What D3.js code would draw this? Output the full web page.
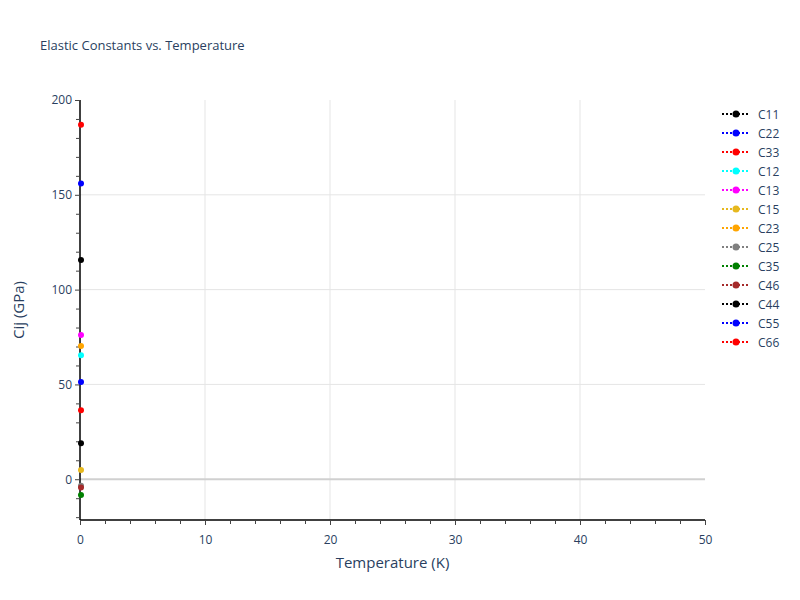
<!DOCTYPE html>
<html>
<head>
<meta charset="utf-8">
<script src="https://cdn.jsdelivr.net/npm/d3@7"></script>
<style>
  body { margin: 0; background: #fff; }
  text { font-family: "Open Sans", Verdana, sans-serif; fill: #2a3f5f; }
</style>
</head>
<body>
<svg id="chart" width="800" height="600"></svg>
<script>
// ── Data ──
const names = ["C11", "C22", "C33", "C12", "C13", "C15", "C23", "C25", "C35", "C46", "C44", "C55", "C66"];
const colors = ["black", "blue", "red", "cyan", "magenta", "#e6b81e", "orange", "gray", "green", "brown", "black", "blue", "red"];
const temps = [0];
const values = [115.6, 156.0, 186.9, 65.4, 76.1, 4.9, 70.3, -3.4, -8.3, -4.4, 19.0, 51.3, 36.4];
const xTicks = [0, 10, 20, 30, 40, 50];
const yTicks = [0, 50, 100, 150, 200];

// ── Layout ──
const svg = d3.select("#chart");
const plotL = 80, plotR = 705, plotT = 100, plotB = 520;

const x = d3.scaleLinear().domain([0, 50]).range([plotL, plotR]);
const y = d3.scaleLinear().domain([-21.5, 200]).range([plotB, plotT]);

// ── Grid ──
const grid = svg.append("g");
grid.selectAll(".gx")
  .data(xTicks.filter(t => t > 0 && t < 50))
  .join("line")
  .attr("x1", d => x(d)).attr("x2", d => x(d))
  .attr("y1", plotT).attr("y2", plotB)
  .attr("stroke", "#e5e5e5").attr("stroke-width", 1);
grid.selectAll(".gy")
  .data(yTicks.filter(t => t < 200))
  .join("line")
  .attr("x1", plotL).attr("x2", plotR)
  .attr("y1", d => y(d)).attr("y2", d => y(d))
  .attr("stroke", d => d === 0 ? "#d0d0d0" : "#e5e5e5")
  .attr("stroke-width", d => d === 0 ? 2 : 1);

// ── Axes ──
const xAxis = svg.append("g")
  .attr("transform", `translate(0,${plotB})`)
  .call(d3.axisBottom(x).tickValues(xTicks).tickSize(5).tickPadding(10));
svg.append("g")
  .attr("transform", `translate(0,${plotB})`)
  .call(d3.axisBottom(x).tickValues(d3.range(2, 50, 2).filter(v => v % 10)).tickSize(4).tickFormat(""))
  .call(g => g.select(".domain").remove());

const yAxis = svg.append("g")
  .attr("transform", `translate(${plotL},0)`)
  .call(d3.axisLeft(y).tickValues(yTicks).tickSize(5).tickPadding(3));
svg.append("g")
  .attr("transform", `translate(${plotL},0)`)
  .call(d3.axisLeft(y).tickValues(d3.range(-20, 200, 10).filter(v => v % 50)).tickSize(4).tickFormat(""))
  .call(g => g.select(".domain").remove());

[xAxis, yAxis].forEach(g => {
  g.select(".domain").attr("stroke", "#000").attr("stroke-width", 1.5);
  g.selectAll(".tick text").style("font-size", "12px").attr("fill", "#2a3f5f");
});
svg.selectAll(".tick line").attr("stroke", "#444");
xAxis.select(".domain").attr("d", `M${plotL},0H${plotR}`);
yAxis.select(".domain").attr("d", `M0,${plotB}V${plotT}`);

// ── Titles ──
svg.append("text").attr("x", 40).attr("y", 50)
  .style("font-size", "13px").text("Elastic Constants vs. Temperature");
svg.append("text").attr("x", (plotL + plotR) / 2).attr("y", 568)
  .attr("text-anchor", "middle").style("font-size", "15px").text("Temperature (K)");
svg.append("text")
  .attr("transform", `translate(24,${(plotT + plotB) / 2}) rotate(-90)`)
  .attr("text-anchor", "middle").style("font-size", "15px").text("Cij (GPa)");

// ── Points ──
const series = names.map((n, i) => ({ name: n, color: colors[i], pts: temps.map(t => ({ t, v: values[i] })) }));
const marks = svg.append("g");
series.forEach(s => {
  marks.selectAll(null)
    .data(s.pts)
    .join("circle")
    .attr("cx", d => x(d.t) + 1)
    .attr("cy", d => y(d.v))
    .attr("r", 3)
    .attr("fill", s.color);
});

// ── Legend ──
const legend = svg.append("g").attr("transform", "translate(722,114)");
const items = legend.selectAll("g")
  .data(series)
  .join("g")
  .attr("transform", (d, i) => `translate(0,${i * 19})`);
items.append("line")
  .attr("x1", 0).attr("x2", 28).attr("y1", 0).attr("y2", 0)
  .attr("stroke", d => d.color).attr("stroke-width", 2)
  .attr("stroke-dasharray", "2,2");
items.append("circle")
  .attr("cx", 14).attr("cy", 0).attr("r", 3.5)
  .attr("fill", d => d.color);
items.append("text")
  .attr("x", 36).attr("y", 4.5)
  .style("font-size", "12px")
  .text(d => d.name);
</script>
</body>
</html>
